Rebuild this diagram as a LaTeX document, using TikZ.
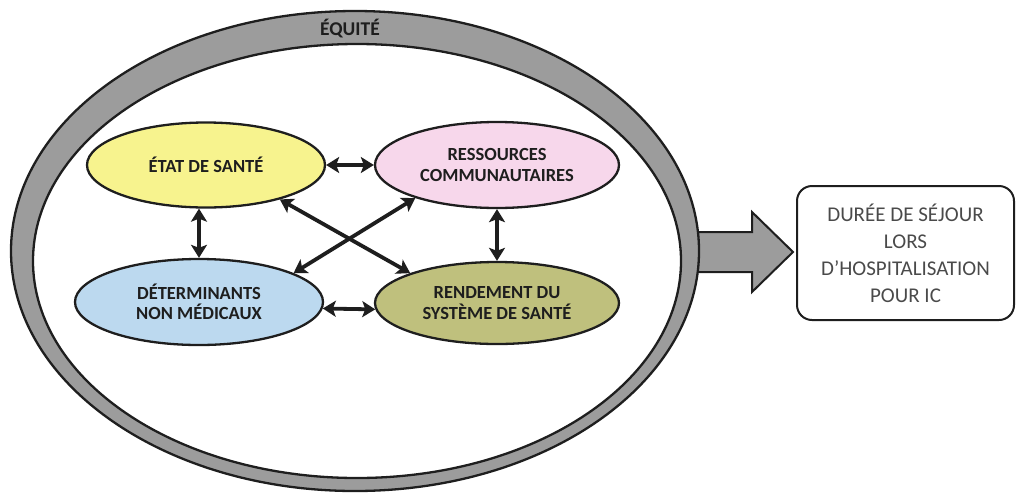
\documentclass[tikz,border=0pt]{standalone}
\usepackage{fontspec}
\setmainfont{Carlito}
\usetikzlibrary{shapes.geometric,arrows.meta}
\definecolor{ringgray}{HTML}{9C9C9C}
\definecolor{cyellow}{HTML}{F7F38E}
\definecolor{cpink}{HTML}{F7D7EB}
\definecolor{cblue}{HTML}{BCD9EF}
\definecolor{colive}{HTML}{BFC07D}
\definecolor{darkline}{HTML}{1E1E1E}
\definecolor{boxtext}{HTML}{4A4A4A}
\tikzset{
  oval/.style={ellipse, draw=darkline, line width=2.3pt, inner sep=0pt, align=center,
    font=\fontsize{18.5}{20.5}\selectfont\bfseries, text=darkline},
  link/.style={draw=darkline, line width=3.8pt, {Stealth[length=13pt,width=16pt,inset=3pt]}-{Stealth[length=13pt,width=16pt,inset=3pt]}},
  outbox/.style={draw=darkline, line width=2pt, rounded corners=15pt, align=center,
    font=\fontsize{21}{27}\selectfont, text=boxtext, inner sep=0pt},
  ringlabel/.style={font=\fontsize{19.5}{20}\selectfont\bfseries, text=darkline, inner sep=0pt}
}
\begin{document}
\begin{tikzpicture}[x=1pt,y=-1pt]
\useasboundingbox (0,0) rectangle (1016,493);
% big arrow
\draw[fill=ringgray, draw=darkline, line width=2pt]
  (690,232) -- (752,232) -- (752,212) -- (793,252) -- (752,292) -- (752,272) -- (690,272) -- cycle;
% ring
\fill[ringgray, even odd rule]
  (355,251) ellipse [x radius=344, y radius=240]
  (357,261) ellipse [x radius=324, y radius=217];
\draw[darkline, line width=2.3pt] (355,251) ellipse [x radius=344, y radius=240];
\draw[darkline, line width=2.3pt] (357,261) ellipse [x radius=324, y radius=217];
\node[ringlabel] (equite) at (350,29) {ÉQUITÉ};
% ovals
\node[oval, fill=cyellow, minimum width=238, minimum height=85] (etat) at (206,165) {ÉTAT DE SANTÉ};
\node[oval, fill=cpink, minimum width=244, minimum height=86] (ress) at (497,165) {RESSOURCES\\COMMUNAUTAIRES};
\node[oval, fill=cblue, minimum width=248, minimum height=86] (det) at (199,302) {DÉTERMINANTS\\NON MÉDICAUX};
\node[oval, fill=colive, minimum width=244, minimum height=82] (rend) at (497,303) {RENDEMENT DU\\SYSTÈME DE SANTÉ};
% links
\draw[link] (etat) -- (ress);
\draw[link] (det.-3) -- (rend.183);
\draw[link] (det.north |- etat.south) -- (det.north);
\draw[link] (ress) -- (rend);
\draw[link] (etat.-25.5) -- (rend.161);
\draw[link] (ress.-158) -- (det.17.7);
% output box
\node[outbox, minimum width=217, minimum height=134] (duree) at (905.5,253)
  {DURÉE DE SÉJOUR\\LORS\\D’HOSPITALISATION\\POUR IC};
\end{tikzpicture}
\end{document}
